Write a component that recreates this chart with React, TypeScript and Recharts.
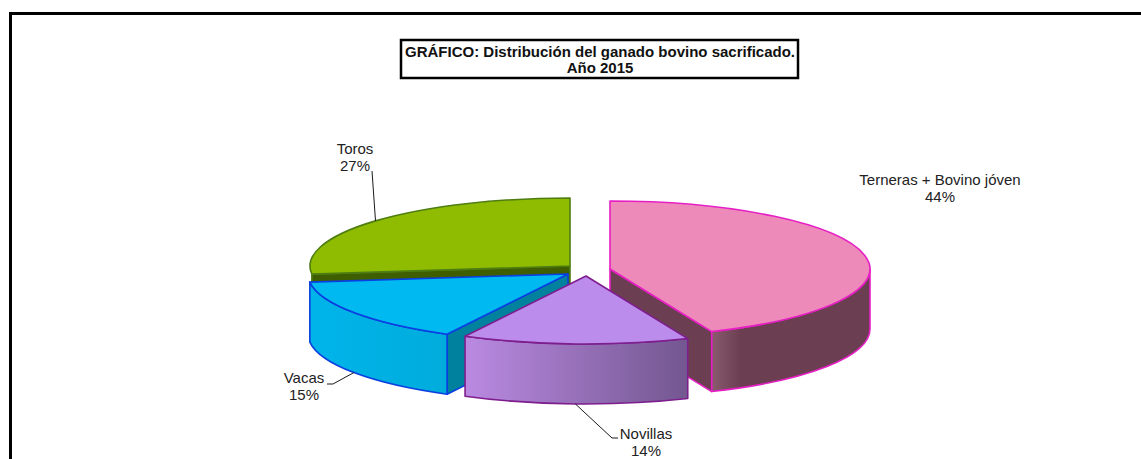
import React from 'react';
import { PieChart, Pie } from 'recharts';

const categories = ['Terneras + Bovino jóven', 'Novillas', 'Vacas', 'Toros'];
const shares = [43.6, 14.1, 15.4, 26.9];
const titleLines = ['GRÁFICO: Distribución del ganado bovino sacrificado.', 'Año 2015'];
const drawOrder = ['Toros', 'Vacas', 'Terneras + Bovino jóven', 'Novillas'];

const data = categories.map((name, i) => ({ name, value: shares[i] }));

const TILT = 68 / 260;
const DEPTH = 60;
const FONT = '"Liberation Sans", Arial, sans-serif';

type Look = {
  dx: number; dy: number; top: string; line: string; cut: string;
  stops: [number, string][];
  lines: [number, number][]; text: [number, number];
};

const looks: Record<string, Look> = {
  'Terneras + Bovino jóven': {
    dx: 20, dy: -1, top: '#EE8ABA', line: '#E61FC4', cut: '#6B3F51',
    stops: [[0, '#8A5A6E'], [0.18, '#6B3F51'], [1, '#6B3F51']], lines: [], text: [940, 185],
  },
  Novillas: {
    dx: -4, dy: 6, top: '#BC8CEC', line: '#7E1E8E', cut: '#6B4A85',
    stops: [[0, '#BA8AE2'], [1, '#735790']], lines: [[612, 438], [618, 438]], text: [646, 439],
  },
  Vacas: {
    dx: -22, dy: 4, top: '#00B9F1', line: '#0A3FE0', cut: '#00829F',
    stops: [[0, '#00B4EA'], [1, '#00ACDC']], lines: [[333, 384], [327, 384]], text: [304, 383],
  },
  Toros: {
    dx: -20, dy: -4, top: '#8FBC00', line: '#4E7D12', cut: '#3E5E00',
    stops: [[0, '#6D8F00'], [1, '#6D8F00']], lines: [[372, 171]], text: [355, 154],
  },
};

const rad = (d: number) => (d * Math.PI) / 180;

// theta is measured clockwise from the top of the pie
const rim = (cx: number, cy: number, r: number, theta: number, drop = 0) => ({
  x: cx + r * Math.sin(rad(theta)),
  y: cy - r * TILT * Math.cos(rad(theta)) + drop,
});

const Slice = (props: any, layer: string) => {
  const name = props.payload?.name ?? props.name;
  if (name !== layer) return <g />;
  const look = looks[name];
  const cx = props.cx + look.dx;
  const cy = props.cy + look.dy;
  const r = props.outerRadius;
  const rx = r;
  const ry = r * TILT;
  const t1 = 90 - Math.max(props.startAngle, props.endAngle);
  const t2 = 90 - Math.min(props.startAngle, props.endAngle);
  const a = rim(cx, cy, r, t1);
  const b = rim(cx, cy, r, t2);
  const large = t2 - t1 > 180 ? 1 : 0;
  const top = `M${cx},${cy} L${a.x},${a.y} A${rx},${ry} 0 ${large} 1 ${b.x},${b.y} Z`;

  const s = Math.max(t1, 90);
  const e = Math.min(t2, 270);
  let wall = '';
  if (e - s > 10) {
    const p = rim(cx, cy, r, s);
    const q = rim(cx, cy, r, e);
    const q2 = rim(cx, cy, r, e, DEPTH);
    const p2 = rim(cx, cy, r, s, DEPTH);
    wall = `M${p.x},${p.y} A${rx},${ry} 0 0 1 ${q.x},${q.y} L${q2.x},${q2.y} A${rx},${ry} 0 0 0 ${p2.x},${p2.y} Z`;
  }
  const cutTheta = Math.sin(rad(t2)) > 0.001 ? t2 : Math.sin(rad(t1)) < -0.001 ? t1 : null;
  let cut = '';
  if (cutTheta !== null) {
    const p = rim(cx, cy, r, cutTheta);
    cut = `M${cx},${cy} L${p.x},${p.y} L${p.x},${p.y + DEPTH} L${cx},${cy + DEPTH} Z`;
  }
  const gid = `wall-${categories.indexOf(name)}`;
  return (
    <g>
      <defs>
        <linearGradient id={gid} x1="0" x2="1" y1="0" y2="0">
          {look.stops.map(([o, c]) => (
            <stop key={o} offset={o} stopColor={c} />
          ))}
        </linearGradient>
      </defs>
      {cut && <path d={cut} fill={look.cut} stroke={look.line} strokeWidth={1.6} strokeLinejoin="round" />}
      {wall && <path d={wall} fill={`url(#${gid})`} stroke={look.line} strokeWidth={1.6} strokeLinejoin="round" />}
      <path d={top} fill={look.top} stroke={look.line} strokeWidth={1.6} strokeLinejoin="round" />
    </g>
  );
};

const SliceLabel = (props: any, layer: string) => {
  const name = props.name ?? props.payload?.name;
  if (name !== layer) return <g />;
  const look = looks[name];
  const theta = 90 - props.midAngle;
  const front = Math.cos(rad(theta)) < 0;
  const start = rim(props.cx + look.dx, props.cy + look.dy, props.outerRadius, theta, front ? DEPTH : 0);
  const pts = [[start.x, start.y], ...look.lines].map((p) => p.join(',')).join(' ');
  const pct = `${Math.round(props.value)}%`;
  return (
    <g>
      {look.lines.length > 0 && <polyline points={pts} fill="none" stroke="#1a1a1a" strokeWidth={1} />}
      <text x={look.text[0]} y={look.text[1]} textAnchor="middle" fontFamily={FONT} fontSize={15} fill="#222">
        <tspan x={look.text[0]}>{name}</tspan>
        <tspan x={look.text[0]} dy={17}>{pct}</tspan>
      </text>
    </g>
  );
};

export default function App() {
  return (
    <div style={{ position: 'absolute', left: 0, top: 0, width: 1141, height: 459, overflow: 'hidden', background: '#fff' }}>
      <PieChart width={1141} height={459} margin={{ top: 0, right: 0, bottom: 0, left: 0 }}>
        <path d="M10.5,470 L10.5,13.5 L1160,13.5" fill="none" stroke="#000" strokeWidth={3} />
        {drawOrder.map((layer) => (
          <Pie
            key={layer}
            data={data}
            dataKey="value"
            nameKey="name"
            cx={590}
            cy={270}
            innerRadius={0}
            outerRadius={260}
            startAngle={90}
            endAngle={-270}
            stroke="none"
            isAnimationActive={false}
            labelLine={false}
            label={(p: any) => SliceLabel(p, layer)}
            shape={(p: any) => Slice(p, layer)}
          />
        ))}
        <rect x={401} y={40} width={397} height={38} fill="#fff" stroke="#000" strokeWidth={2.5} />
        <text x={600} y={57} textAnchor="middle" fontFamily={FONT} fontSize={15} fontWeight="bold" fill="#111">
          {titleLines[0]}
        </text>
        <text x={600} y={73} textAnchor="middle" fontFamily={FONT} fontSize={15} fontWeight="bold" fill="#111">
          {titleLines[1]}
        </text>
      </PieChart>
    </div>
  );
}
